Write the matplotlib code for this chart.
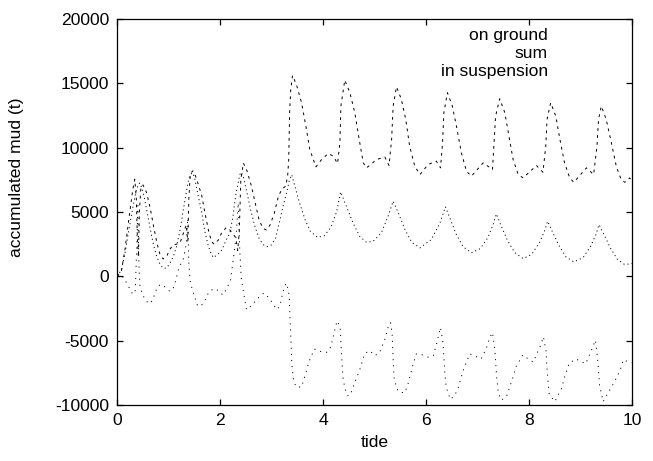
import matplotlib
matplotlib.use("Agg")
import matplotlib.pyplot as plt

# values (tide, accumulated mud in t)
tide_ground = [0, 0.08, 0.15, 0.22, 0.3, 0.34, 0.37, 0.39, 0.41, 0.43, 0.46, 0.5, 0.57, 0.64,
               0.7, 0.77, 0.83, 0.89, 0.96, 1.02, 1.09, 1.15, 1.22, 1.28, 1.34, 1.37, 1.39,
               1.42, 1.47, 1.52, 1.57, 1.64, 1.7, 1.77, 1.83, 1.88, 1.96, 2.03, 2.12, 2.19,
               2.25, 2.3, 2.34, 2.37, 2.4, 2.45, 2.52, 2.6, 2.68, 2.76, 2.84, 2.9, 2.97, 3.05,
               3.13, 3.2, 3.27, 3.31, 3.33, 3.35, 3.37, 3.405, 3.48, 3.58, 3.665, 3.74, 3.86,
               3.97, 4.1, 4.195, 4.28, 4.325, 4.345, 4.42, 4.52, 4.615, 4.7, 4.78, 4.84, 4.93,
               5.035, 5.2, 5.28, 5.33, 5.36, 5.425, 5.52, 5.605, 5.68, 5.78, 5.88, 6.04, 6.2,
               6.28, 6.32, 6.345, 6.415, 6.51, 6.59, 6.685, 6.785, 6.88, 7.11, 7.29, 7.32,
               7.35, 7.43, 7.53, 7.61, 7.69, 7.79, 7.885, 8.145, 8.27, 8.325, 8.35, 8.42,
               8.52, 8.6, 8.69, 8.79, 8.87, 9.115, 9.255, 9.32, 9.35, 9.405, 9.5, 9.6, 9.695,
               9.79, 9.86, 9.955, 10.0]
ground = [0, 400, 2100, 4300, 6700, 7550, 6000, 3000, 1500, 5000, 7000, 7100, 6500, 5300,
          4000, 2600, 1700, 1350, 1550, 2100, 2450, 2500, 2600, 3300, 4000, 2700, 6000,
          8000, 8200, 7800, 7200, 6300, 5000, 3600, 2700, 2500, 2800, 3400, 3800, 3600,
          3300, 3000, 2000, 3500, 7500, 8800, 8200, 7100, 5700, 4300, 3700, 3600, 4000, 4900,
          6200, 6800, 7000, 7800, 9000, 12900, 14500, 15610, 14910, 13490, 11670, 9860, 8510,
          9080, 9550, 9340, 8770, 10380, 13230, 15250, 14270, 12710, 10640, 8820, 8430, 8700,
          9080, 9260, 8610, 10640, 13230, 14730, 13750, 12190, 10120, 8560, 7910, 8690, 8950,
          8430, 10380, 12710, 14270, 13230, 11670, 9600, 8170, 7780, 8820, 8300, 10380,
          12450, 13800, 12710, 10900, 9080, 7910, 7650, 8610, 8090, 10120, 12190, 13490,
          12450, 10640, 8820, 7650, 7310, 8430, 7910, 10120, 12190, 13230, 12190, 10380, 8560,
          7520, 7310, 7650, 7400]

tide_sum = [0, 0.08, 0.15, 0.22, 0.3, 0.35, 0.38, 0.4, 0.42, 0.44, 0.5, 0.57, 0.64, 0.7,
            0.77, 0.83, 0.89, 0.96, 1.02, 1.09, 1.15, 1.22, 1.28, 1.34, 1.37, 1.39, 1.42,
            1.46, 1.5, 1.57, 1.64, 1.7, 1.77, 1.83, 1.87, 1.96, 2.03, 2.12, 2.19, 2.25, 2.28,
            2.31, 2.35, 2.38, 2.41, 2.45, 2.52, 2.6, 2.68, 2.76, 2.84, 2.91, 3.0, 3.08, 3.16,
            3.23, 3.29, 3.34, 3.39, 3.45, 3.55, 3.65, 3.75, 3.89, 4.02, 4.15, 4.26, 4.34,
            4.45, 4.58, 4.71, 4.84, 4.97, 5.13, 5.26, 5.36, 5.46, 5.59, 5.72, 5.88, 6.1, 6.27,
            6.375, 6.46, 6.58, 6.72, 6.88, 7.05, 7.2, 7.3, 7.365, 7.45, 7.58, 7.72, 7.885,
            8.05, 8.2, 8.3, 8.36, 8.45, 8.58, 8.72, 8.87, 9.05, 9.2, 9.3, 9.36, 9.45, 9.58,
            9.72, 9.86, 10.0]
total = [0, 500, 1800, 3500, 5300, 6300, 6800, 7050, 7200, 7250, 6600, 5200, 3700, 2500,
         1500, 950, 620, 650, 1000, 1550, 2300, 3600, 5100, 6500, 7200, 7600, 7900,
         8050, 7700, 6300, 5000, 3500, 2350, 1700, 1450, 1750, 2050, 2850, 3400, 4700, 5700,
         6500, 7300, 7900, 8100, 7700, 6500, 5000, 3800, 2900, 2450, 2300, 2450, 3000, 4400,
         5600, 6500, 7400, 7900, 7000, 5600, 4400, 3500, 3030, 3150, 3800, 5000, 6560,
         5450, 4150, 3110, 2650, 2720, 3370, 4660, 5840, 4930, 3630, 2650, 2210, 2850, 4150,
         5400, 4550, 3300, 2300, 1820, 2150, 3000, 4000, 4850, 4000, 2800, 1850, 1380,
         1700, 2600, 3500, 4280, 3500, 2400, 1500, 1120, 1450, 2350, 3250, 4020, 3300, 2200,
         1300, 910, 1000]

tide_susp = [0, 0.08, 0.15, 0.22, 0.3, 0.35, 0.38, 0.4, 0.42, 0.44, 0.5, 0.57, 0.64, 0.7,
             0.77, 0.83, 0.89, 0.96, 1.02, 1.09, 1.13, 1.2, 1.28, 1.34, 1.37, 1.39, 1.42,
             1.48, 1.55, 1.62, 1.7, 1.78, 1.88, 1.96, 2.05, 2.12, 2.2, 2.26, 2.31, 2.35, 2.38,
             2.41, 2.45, 2.51, 2.6, 2.71, 2.78, 2.85, 2.95, 3.05, 3.1, 3.16, 3.22, 3.28, 3.32,
             3.34, 3.36, 3.38, 3.39, 3.42, 3.47, 3.58, 3.66, 3.72, 3.83, 3.9, 4.0, 4.08, 4.15,
             4.23, 4.27, 4.33, 4.35, 4.37, 4.39, 4.45, 4.49, 4.55, 4.63, 4.7, 4.81, 4.91, 5.0,
             5.09, 5.2, 5.26, 5.31, 5.34, 5.36, 5.38, 5.45, 5.52, 5.59, 5.65, 5.75, 5.81,
             5.93, 6.05, 6.14, 6.21, 6.28, 6.33, 6.35, 6.37, 6.39, 6.47, 6.55, 6.62, 6.72,
             6.85, 6.95, 7.07, 7.17, 7.24, 7.29, 7.33, 7.35, 7.37, 7.4, 7.46, 7.56, 7.69, 7.75,
             7.88, 7.98, 8.08, 8.21, 8.28, 8.33, 8.35, 8.37, 8.39, 8.5, 8.63, 8.69, 8.78,
             8.91, 9.0, 9.1, 9.21, 9.29, 9.33, 9.35, 9.37, 9.44, 9.53, 9.66, 9.77, 9.83, 9.95,
             10.0]
susp = [0, 100, -300, -800, -1400, -1100, 2500, 5500, 1000, -800, -1500, -1950, -2130, -1700,
        -900, -650, -700, -950, -1170, -900, -400, 700, 1300, 2500, 4500, 1000, -500,
        -1300, -2200, -2350, -1900, -1200, -950, -1100, -1450, -1000, -300, 1500, 3200, 5700,
        2000, -200, -1200, -2600, -2300, -1810, -1500, -1300, -1680, -2300, -2580, -2320,
        -1170, -530, -1000, -1550, -3700, -5500, -6800, -7950, -8600, -8600, -7570, -6670,
        -5650, -5780, -5900, -5900, -5470, -4110, -3470, -3980, -5500, -7000, -8080, -9100,
        -9310, -8980, -8080, -7390, -5980, -5780, -6160, -5980, -4880, -3980, -3600, -4500,
        -6500, -8000, -8900, -9030, -9030, -8340, -6800, -6030, -6110, -6300, -6160, -5140,
        -3980, -5200, -6600, -7800, -8600, -9560, -9300, -8720, -7310, -6030, -6200, -6420,
        -5600, -4750, -4370, -5500, -6500, -7800, -8980, -9620, -9360, -7820, -7000, -6110,
        -6400, -6670, -5520, -4700, -5800, -7200, -8200, -9100, -9740, -8720, -7820, -6750,
        -6420, -6600, -6800, -5780, -4960, -6300, -7300, -8460, -9740, -9100, -8200, -7310,
        -6490, -6670, -6700]

labels = ["on ground", "sum", "in suspension"]

plt.rcParams['font.family'] = ['Liberation Sans', 'DejaVu Sans']
plt.rcParams['font.size'] = 12.6
plt.rcParams['lines.scale_dashes'] = False
plt.rcParams['axes.unicode_minus'] = False

fig = plt.figure(figsize=(6.53, 4.61), dpi=100)
ax = fig.add_axes([0.1796, 0.1215, 0.7882, 0.8373])

ax.plot(tide_ground, ground, color='black', lw=0.7, dashes=(2.0, 3.0))
ax.plot(tide_sum, total, color='black', lw=0.7, dashes=(0.8, 2.2))
ax.plot(tide_susp, susp, color='black', lw=0.7, dashes=(0.8, 3.6))

ax.set_xlim(0, 10)
ax.set_ylim(-10000, 20000)
ax.set_xticks(range(0, 11, 2))
ax.set_yticks(range(-10000, 20001, 5000))
ax.tick_params(direction='in', length=4.5, width=0.9, top=True, right=True, pad=6)
for s in ax.spines.values():
    s.set_linewidth(0.9)

ax.set_xlabel("tide", labelpad=5)
fig.text(17 / 653, 1 - 177 / 461, "accumulated mud (t)", rotation=90,
         ha='center', va='center')

# legend drawn as plain right-aligned text, like the original
for i, lab in enumerate(labels):
    ax.text(0.8368, 0.9585 - i * 0.0475, lab, transform=ax.transAxes,
            ha='right', va='center')

fig.savefig("out.png", dpi=100)
